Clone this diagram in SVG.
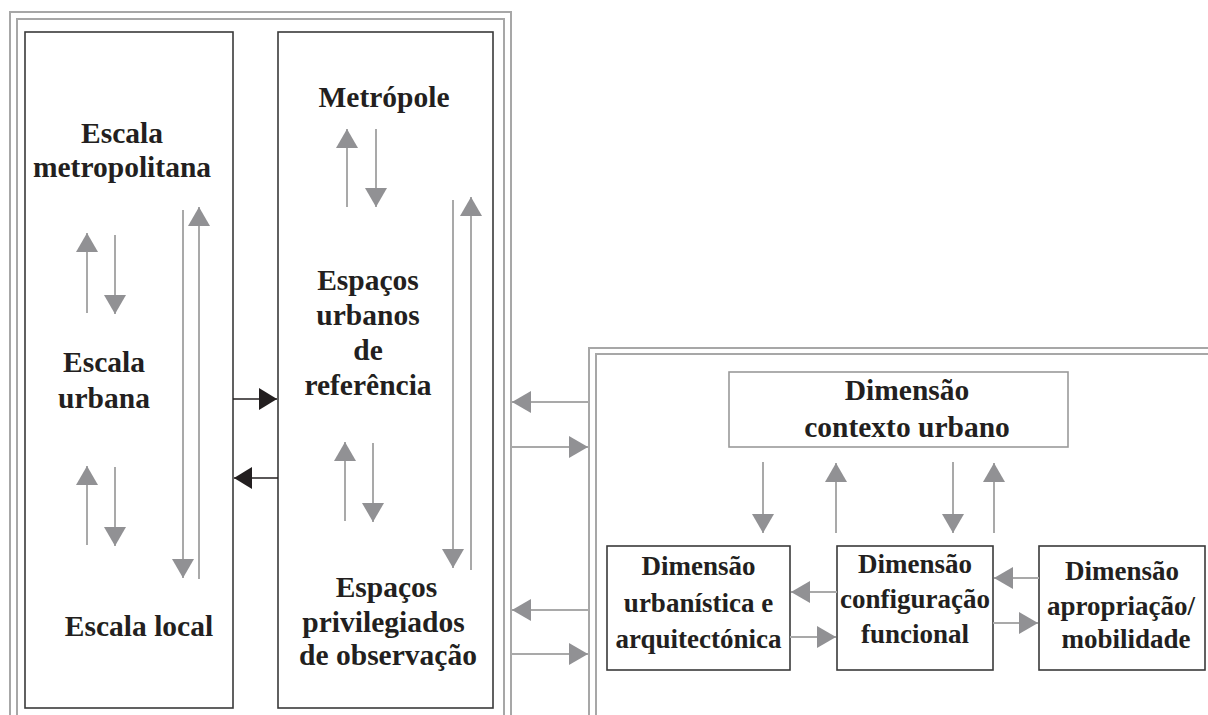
<svg xmlns="http://www.w3.org/2000/svg" width="1208" height="715" viewBox="0 0 1208 715">
<style>
.frame{fill:none;stroke:#a7a7a7;stroke-width:2}
.box{fill:#fff;stroke:#3a3a3a;stroke-width:1.6}
.gbox{fill:#fff;stroke:#9a9a9a;stroke-width:1.6}
.ga{stroke:#a9a9a9;stroke-width:2;fill:none}
.da{stroke:#231f20;stroke-width:1.6;fill:none}
.t{font-family:"Liberation Serif","DejaVu Serif",serif;font-weight:bold;font-size:29.5px;fill:#231f20;text-anchor:middle}
.s{font-family:"Liberation Serif","DejaVu Serif",serif;font-weight:bold;font-size:27px;fill:#231f20;text-anchor:middle}
</style>
<defs>
<marker id="mg" markerUnits="userSpaceOnUse" markerWidth="19" markerHeight="22" refX="19" refY="11" orient="auto" viewBox="0 0 19 22">
<path d="M0,0 L19,11 L0,22 z" fill="#919194"/>
</marker>
<marker id="md" markerUnits="userSpaceOnUse" markerWidth="18" markerHeight="22" refX="18" refY="11" orient="auto" viewBox="0 0 18 22">
<path d="M0,0 L18,11 L0,22 z" fill="#231f20"/>
</marker>
</defs>
<g id="frames">
<path class="frame" d="M10,715 V12 H511 V715"/>
<path class="frame" d="M17,715 V19 H504 V715"/>
<path class="frame" d="M589,715 V348 H1208"/>
<path class="frame" d="M596,715 V354 H1208"/>
</g>
<g id="escalas">
<rect class="box" x="25" y="32" width="208" height="676"/>
<text class="t"><tspan x="122" y="143">Escala</tspan><tspan x="122" y="177">metropolitana</tspan></text>
<text class="t"><tspan x="104" y="372">Escala</tspan><tspan x="104" y="408">urbana</tspan></text>
<text class="t" x="139" y="636">Escala local</text>
</g>
<g id="espacos">
<rect class="box" x="278" y="32" width="215" height="676"/>
<text class="t" x="384" y="107">Metrópole</text>
<text class="t"><tspan x="368" y="290">Espaços</tspan><tspan x="368" y="325">urbanos</tspan><tspan x="368" y="360">de</tspan><tspan x="368" y="395">referência</tspan></text>
<text class="t"><tspan x="386.5" y="597">Espaços</tspan><tspan x="383.5" y="632">privilegiados</tspan><tspan x="388" y="665">de observação</tspan></text>
</g>
<g id="contexto">
<rect class="gbox" x="729" y="372" width="339" height="75"/>
<text class="t"><tspan x="907" y="400">Dimensão</tspan><tspan x="907" y="437">contexto urbano</tspan></text>
</g>
<g id="urbanistica">
<rect class="box" x="607" y="546" width="183" height="124"/>
<text class="s"><tspan x="698.5" y="575">Dimensão</tspan><tspan x="698.5" y="612">urbanística e</tspan><tspan x="698.5" y="648">arquitectónica</tspan></text>
</g>
<g id="configuracao">
<rect class="box" x="837" y="546" width="156" height="124"/>
<text class="s"><tspan x="915" y="573">Dimensão</tspan><tspan x="915" y="608">configuração</tspan><tspan x="915" y="643">funcional</tspan></text>
</g>
<g id="apropriacao">
<rect class="box" x="1039" y="546" width="166" height="124"/>
<text class="s"><tspan x="1122" y="580">Dimensão</tspan><tspan x="1121" y="615">apropriação/</tspan><tspan x="1126" y="648">mobilidade</tspan></text>
</g>
<g id="connectors">
<line class="ga" x1="87" y1="313" x2="87" y2="233" marker-end="url(#mg)"/>
<line class="ga" x1="115" y1="235" x2="115" y2="314" marker-end="url(#mg)"/>
<line class="ga" x1="87" y1="545" x2="87" y2="466" marker-end="url(#mg)"/>
<line class="ga" x1="115" y1="467" x2="115" y2="546" marker-end="url(#mg)"/>
<line class="ga" x1="183" y1="210" x2="183" y2="578" marker-end="url(#mg)"/>
<line class="ga" x1="199" y1="579" x2="199" y2="207" marker-end="url(#mg)"/>
<line class="da" x1="233" y1="399" x2="277" y2="399" marker-end="url(#md)"/>
<line class="da" x1="278" y1="478" x2="234" y2="478" marker-end="url(#md)"/>
<line class="ga" x1="347" y1="207" x2="347" y2="129" marker-end="url(#mg)"/>
<line class="ga" x1="376" y1="129" x2="376" y2="207" marker-end="url(#mg)"/>
<line class="ga" x1="345" y1="521" x2="345" y2="442" marker-end="url(#mg)"/>
<line class="ga" x1="373" y1="443" x2="373" y2="522" marker-end="url(#mg)"/>
<line class="ga" x1="453" y1="200" x2="453" y2="568" marker-end="url(#mg)"/>
<line class="ga" x1="471" y1="570" x2="471" y2="197" marker-end="url(#mg)"/>
<line class="ga" x1="589" y1="402" x2="512" y2="402" marker-end="url(#mg)"/>
<line class="ga" x1="511" y1="447" x2="588" y2="447" marker-end="url(#mg)"/>
<line class="ga" x1="589" y1="610" x2="512" y2="610" marker-end="url(#mg)"/>
<line class="ga" x1="511" y1="654" x2="588" y2="654" marker-end="url(#mg)"/>
<line class="ga" x1="763" y1="462" x2="763" y2="533" marker-end="url(#mg)"/>
<line class="ga" x1="836" y1="533" x2="836" y2="463" marker-end="url(#mg)"/>
<line class="ga" x1="953" y1="462" x2="953" y2="533" marker-end="url(#mg)"/>
<line class="ga" x1="994" y1="533" x2="994" y2="463" marker-end="url(#mg)"/>
<line class="ga" x1="837" y1="592" x2="791" y2="592" marker-end="url(#mg)"/>
<line class="ga" x1="790" y1="637" x2="836" y2="637" marker-end="url(#mg)"/>
<line class="ga" x1="1039" y1="578" x2="994" y2="578" marker-end="url(#mg)"/>
<line class="ga" x1="993" y1="623" x2="1038" y2="623" marker-end="url(#mg)"/>
</g>
</svg>
